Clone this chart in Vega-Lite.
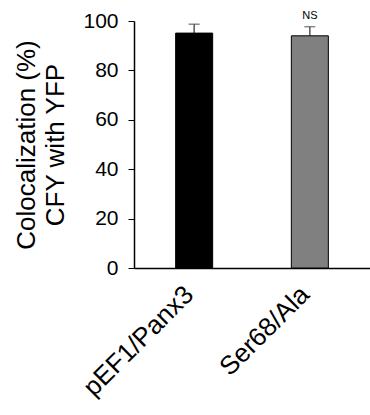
{
  "$schema": "https://vega.github.io/schema/vega-lite/v6.json",
  "autosize": {"type": "none"},
  "padding": {"left": 134, "top": 21, "right": 0, "bottom": 147},
  "width": 236,
  "height": 247,
  "background": "white",
  "config": {
    "font": "Liberation Sans",
    "view": {"stroke": null}
  },
  "data": {
    "values": [
      {"group": "pEF1/Panx3", "mean": 95.1, "upper": 98.7, "label": ""},
      {"group": "Ser68/Ala", "mean": 94.0, "upper": 97.7, "label": "NS"}
    ]
  },
  "encoding": {
    "x": {
      "field": "group",
      "type": "nominal",
      "sort": null,
      "scale": {"paddingInner": 0.68, "paddingOuter": 0.36},
      "axis": {
        "title": null,
        "labelAngle": -45,
        "labelFontSize": 26,
        "labelColor": "black",
        "domainColor": "black",
        "domainWidth": 1.5,
        "ticks": false,
        "labelPadding": 13,
        "labelOffset": -14
      }
    }
  },
  "layer": [
    {
      "mark": {"type": "rule", "color": "#555555", "strokeWidth": 1.5},
      "encoding": {
        "y": {"field": "mean", "type": "quantitative"},
        "y2": {"field": "upper"}
      }
    },
    {
      "mark": {"type": "tick", "color": "#555555", "thickness": 1.5, "size": 11},
      "encoding": {
        "y": {"field": "upper", "type": "quantitative"}
      }
    },
    {
      "mark": {"type": "bar", "stroke": "black", "strokeWidth": 1},
      "encoding": {
        "y": {
          "field": "mean",
          "type": "quantitative",
          "scale": {"domain": [0, 100], "nice": false},
          "axis": {
            "title": ["Colocalization (%)", "CFY with YFP"],
            "titleFontSize": 26,
            "titleFontWeight": "normal",
            "titleColor": "black",
            "titlePadding": 14,
            "titleLineHeight": 29,
            "values": [0, 20, 40, 60, 80, 100],
            "grid": false,
            "labelFontSize": 21,
            "labelColor": "black",
            "labelPadding": 10,
            "tickSize": 6,
            "tickColor": "black",
            "domainColor": "black",
            "domainWidth": 1.5
          }
        },
        "color": {
          "field": "group",
          "type": "nominal",
          "scale": {"domain": ["pEF1/Panx3", "Ser68/Ala"], "range": ["black", "#808080"]},
          "legend": null
        }
      }
    },
    {
      "mark": {"type": "text", "fontSize": 11, "dy": -11, "color": "black"},
      "encoding": {
        "y": {"field": "upper", "type": "quantitative"},
        "text": {"field": "label"}
      }
    }
  ]
}
